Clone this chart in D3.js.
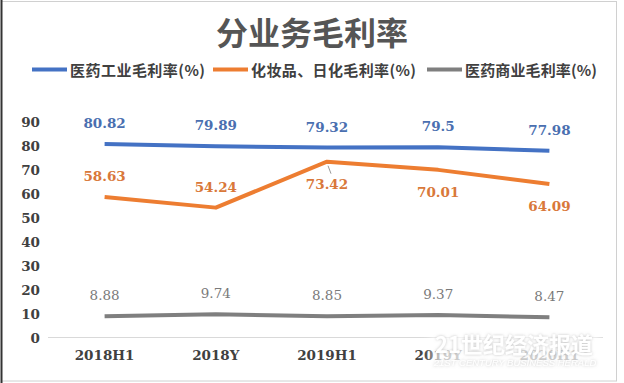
<!DOCTYPE html>
<html><head><meta charset="utf-8">
<script src="https://cdn.jsdelivr.net/npm/d3@7"></script>
<style>body{margin:0;background:#fff}svg{display:block}</style>
</head><body>
<script>
const categories = ["2018H1","2018Y","2019H1","2019Y","2020H1"];
const pharmaIndustry = [80.82,79.89,79.32,79.5,77.98];
const cosmetics = [58.63,54.24,73.42,70.01,64.09];
const pharmaCommerce = [8.88,9.74,8.85,9.37,8.47];
const yTicks = [0,10,20,30,40,50,60,70,80,90];
const seriesNames = ["医药工业毛利率(%)","化妆品、日化毛利率(%)","医药商业毛利率(%)"];
const colors = ["#4472C4","#ED7D31","#7F7F7F"];
const labelColors = ["#4a6fb0","#d9783a","#7a7a7a"];
const labelPos = [
  ["a","a","a","a","a"],
  ["a","a","b","b","b"],
  ["a","a","a","a","a"]
];

const W=624,H=383;
const svg=d3.select("body").append("svg").attr("width",W).attr("height",H);
svg.append("rect").attr("x",1.5).attr("y",1.5).attr("width",615).attr("height",379.5).attr("fill","#fff").attr("stroke","#d0d0d0");
svg.append("line").attr("x1",1.5).attr("x2",1.5).attr("y1",0).attr("y2",383).attr("stroke","#333").attr("stroke-width",2);

const x=d3.scaleBand().domain(categories).range([49,605]);
const y=d3.scaleLinear().domain([0,90]).range([337.5,122]);

svg.append("text").attr("x",312).attr("y",45).attr("text-anchor","middle")
  .attr("font-family","Noto Sans CJK SC").attr("font-weight","bold").attr("font-size",32)
  .attr("fill","#555").text("分业务毛利率");

// legend
const legX=[32,213,427];
const legW=[135,165,132];
seriesNames.forEach((n,i)=>{
  const g=svg.append("g");
  g.append("line").attr("x1",legX[i]).attr("x2",legX[i]+35).attr("y1",69.5).attr("y2",69.5)
   .attr("stroke",colors[i]).attr("stroke-width",4);
  g.append("text").attr("x",legX[i]+38).attr("y",75.5).attr("font-family","Noto Sans CJK SC")
   .attr("font-weight","bold").attr("font-size",15).attr("fill","#404040")
   .attr("textLength",legW[i]).attr("lengthAdjust","spacing").text(n);
});

// axis
const axisG=svg.append("g");
axisG.append("line").attr("x1",48).attr("x2",603).attr("y1",y(0)).attr("y2",y(0)).attr("stroke","#d9d9d9");
axisG.selectAll("text.yt").data(yTicks).enter().append("text").attr("class","yt")
  .attr("x",40).attr("y",d=>y(d)+5).attr("text-anchor","end")
  .attr("font-family","DejaVu Serif").attr("font-weight","bold").attr("font-size",13.5)
  .attr("fill","#404040").text(d=>d);
axisG.selectAll("text.xt").data(categories).enter().append("text").attr("class","xt")
  .attr("x",d=>x(d)+x.bandwidth()/2).attr("y",360).attr("text-anchor","middle")
  .attr("font-family","DejaVu Serif").attr("font-weight","bold").attr("font-size",13.5)
  .attr("fill","#404040").text(d=>d);

const data=[pharmaIndustry,cosmetics,pharmaCommerce];
const line=d3.line().x((d,i)=>x(categories[i])+x.bandwidth()/2).y(d=>y(d));
data.forEach((s,k)=>{
  svg.append("path").attr("d",line(s)).attr("fill","none").attr("stroke",colors[k])
    .attr("stroke-width",4).attr("stroke-linejoin","round");
});
data.forEach((s,k)=>{
  s.forEach((v,i)=>{
    const cx=x(categories[i])+x.bandwidth()/2;
    const cy=y(v);
    const above=labelPos[k][i]==="a";
    const ty=above? cy-16 : cy+27;
    if(k===1 && i===2){
      svg.append("line").attr("x1",cx+1).attr("y1",cy+4).attr("x2",cx+4).attr("y2",cy+12)
        .attr("stroke","#999").attr("stroke-width",1);
    }
    svg.append("text").attr("x",cx).attr("y",ty).attr("text-anchor","middle")
      .attr("font-family","DejaVu Serif").attr("font-weight",k===2?"normal":"bold")
      .attr("font-size",13.5).attr("fill",labelColors[k]).text(v);
  });
});

// watermark
const defs=svg.append("defs");
const f=defs.append("filter").attr("id","blur").attr("x","-20%").attr("y","-40%").attr("width","140%").attr("height","180%");
f.append("feGaussianBlur").attr("stdDeviation",6);
svg.append("rect").attr("x",432).attr("y",330).attr("width",166).attr("height",42).attr("fill","#fff").attr("opacity",0.75).attr("filter","url(#blur)");
const f2=defs.append("filter").attr("id","shadow");
f2.append("feDropShadow").attr("dx",0).attr("dy",0).attr("stdDeviation",1.5).attr("flood-color","#999").attr("flood-opacity",0.6);
svg.append("text").attr("x",514).attr("y",353).attr("text-anchor","middle")
  .attr("font-family","Noto Sans CJK SC").attr("font-weight","bold").attr("font-size",22)
  .attr("fill","#fff").attr("filter","url(#shadow)").text("21世纪经济报道");
svg.append("text").attr("x",515).attr("y",366).attr("text-anchor","middle")
  .attr("font-family","Liberation Sans").attr("font-style","italic").attr("font-size",9.5)
  .attr("fill","#fff").attr("filter","url(#shadow)").text("21ST CENTURY BUSINESS HERALD");
</script>
</body></html>
